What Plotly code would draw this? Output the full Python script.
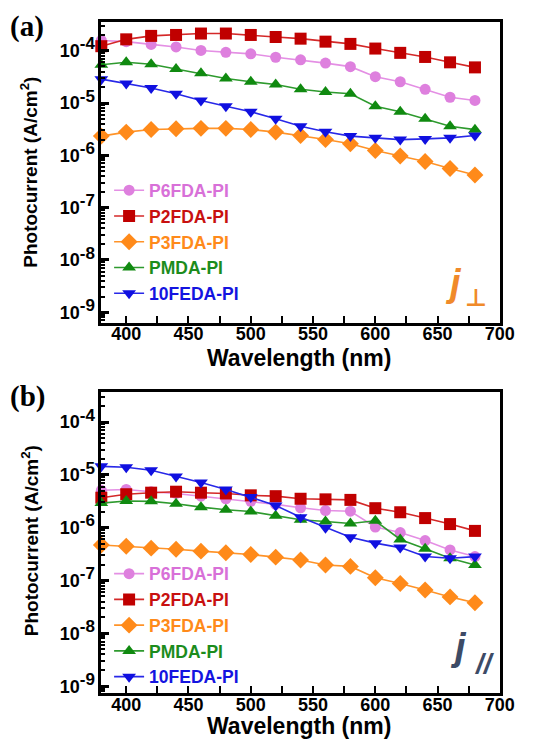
import plotly.graph_objects as go

wavelength = [380, 400, 420, 440, 460, 480, 500, 520, 540, 560, 580, 600, 620, 640, 660, 680]

series_names = ["P6FDA-PI", "P2FDA-PI", "P3FDA-PI", "PMDA-PI", "10FEDA-PI"]

# panel (a): j perpendicular
a_p6fda = [1.57e-4, 1.49e-4, 1.32e-4, 1.18e-4, 1.01e-4, 9.3e-5, 8.7e-5, 7.5e-5, 6.7e-5, 5.8e-5, 4.96e-5, 3.19e-5, 2.55e-5, 1.83e-5, 1.29e-5, 1.12e-5]
a_p2fda = [1.22e-4, 1.65e-4, 1.92e-4, 2.0e-4, 2.13e-4, 2.13e-4, 2.0e-4, 1.83e-4, 1.70e-4, 1.49e-4, 1.35e-4, 1.10e-4, 9.1e-5, 7.6e-5, 6.0e-5, 4.8e-5]
a_p3fda = [2.33e-6, 2.78e-6, 3.11e-6, 3.23e-6, 3.28e-6, 3.28e-6, 3.11e-6, 2.78e-6, 2.39e-6, 2.0e-6, 1.67e-6, 1.24e-6, 9.7e-7, 7.6e-7, 5.6e-7, 4.2e-7]
a_pmda = [5.4e-5, 6.0e-5, 5.5e-5, 4.45e-5, 3.7e-5, 2.94e-5, 2.55e-5, 2.26e-5, 1.83e-5, 1.62e-5, 1.50e-5, 8.7e-6, 6.8e-6, 5.0e-6, 3.6e-6, 3.1e-6]
a_10feda = [2.86e-5, 2.35e-5, 1.94e-5, 1.50e-5, 1.12e-5, 8.7e-6, 6.8e-6, 5.0e-6, 3.6e-6, 2.82e-6, 2.33e-6, 2.16e-6, 2.0e-6, 2.06e-6, 2.16e-6, 2.39e-6]

# panel (b): j parallel
b_p6fda = [5.1e-6, 5.3e-6, 4.8e-6, 4.45e-6, 3.95e-6, 3.53e-6, 3.15e-6, 2.76e-6, 2.38e-6, 2.11e-6, 2.05e-6, 1.03e-6, 8.1e-7, 5.7e-7, 3.8e-7, 2.84e-7]
b_p2fda = [3.7e-6, 4.3e-6, 4.6e-6, 4.8e-6, 4.6e-6, 4.45e-6, 4.1e-6, 3.95e-6, 3.53e-6, 3.44e-6, 3.36e-6, 2.34e-6, 1.96e-6, 1.52e-6, 1.17e-6, 8.7e-7]
b_p3fda = [4.7e-7, 4.45e-7, 4.1e-7, 3.9e-7, 3.6e-7, 3.36e-7, 3.1e-7, 2.77e-7, 2.44e-7, 1.97e-7, 1.85e-7, 1.13e-7, 8.8e-8, 6.6e-8, 4.9e-8, 3.8e-8]
b_pmda = [2.92e-6, 3.2e-6, 3.15e-6, 2.84e-6, 2.45e-6, 2.18e-6, 2.02e-6, 1.69e-6, 1.41e-6, 1.31e-6, 1.2e-6, 1.35e-6, 6.0e-7, 4.0e-7, 2.64e-7, 1.96e-7]
b_10feda = [1.45e-5, 1.39e-5, 1.22e-5, 9.3e-6, 7.2e-6, 5.3e-6, 3.8e-6, 2.64e-6, 1.57e-6, 1.0e-6, 6.6e-7, 5.1e-7, 4.2e-7, 2.84e-7, 2.64e-7, 2.84e-7]

ytick_vals = [1e-9, 1e-8, 1e-7, 1e-6, 1e-5, 1e-4]
ytick_exps = ["-9", "-8", "-7", "-6", "-5", "-4"]
xtick_vals = [400, 450, 500, 550, 600, 650, 700]

line_colors = ["#E48FE4", "#D42828", "#FF9328", "#2E9A2E", "#2828E8"]
marker_colors = ["#DE80DE", "#C00000", "#FF8A1A", "#108A10", "#1010E0"]
text_colors = ["#D870D8", "#C81010", "#FF8A1A", "#1C8C1C", "#1414E0"]
symbols = ["circle", "square", "diamond", "triangle-up", "triangle-down"]
msizes = [11, 12, 13, 12, 12]

W, H = 537, 744
FONT = "Liberation Sans"

ytick_text = ["10<sup><span style='font-size:17px'>%s</span></sup>" % e for e in ytick_exps]

fig = go.Figure()

panels = [
    ([a_p6fda, a_p2fda, a_p3fda, a_pmda, a_10feda], "x", "y", "legend"),
    ([b_p6fda, b_p2fda, b_p3fda, b_pmda, b_10feda], "x2", "y2", "legend2"),
]
for data, xa, ya, lg in panels:
    for i, vals in enumerate(data):
        fig.add_trace(go.Scatter(
            x=wavelength, y=vals, xaxis=xa, yaxis=ya, legend=lg,
            mode="lines+markers",
            name="<span style='color:%s'>%s</span>" % (text_colors[i], series_names[i]),
            line=dict(color=line_colors[i], width=1.6),
            marker=dict(symbol=symbols[i], size=msizes[i], color=marker_colors[i],
                        line=dict(width=0)),
            cliponaxis=False,
        ))

minor_y = [k * 10.0 ** e for e in range(-10, -3) for k in range(2, 10)] + [2e-4, 3e-4, 4e-4, 5e-4]

def xaxis_cfg(anchor):
    return dict(
        range=[380, 700], anchor=anchor, domain=[96 / W, 506 / W],
        showline=True, linecolor="black", linewidth=2.5, mirror=True,
        ticks="inside", ticklen=7, tickwidth=2, tickcolor="black",
        tickvals=xtick_vals, showgrid=False, zeroline=False,
        ticklabelstandoff=-7,
        tickfont=dict(family=FONT, size=18, color="black", weight="bold"),
        minor=dict(dtick=25, tick0=375, ticks="inside", ticklen=7, tickwidth=2, tickcolor="black"),
    )

def yaxis_cfg(anchor, dom, rng):
    return dict(
        type="log", range=rng, anchor=anchor, domain=dom,
        showline=True, linecolor="black", linewidth=2.5, mirror=True,
        ticks="inside", ticklen=8, tickwidth=2.5, tickcolor="black",
        tickvals=ytick_vals, ticktext=ytick_text, showgrid=False, zeroline=False,
        tickfont=dict(family=FONT, size=18, color="black", weight="bold"),
        minor=dict(tickvals=minor_y, ticks="inside", ticklen=4, tickwidth=1.5, tickcolor="black"),
    )

fig.update_layout(
    width=W, height=H,
    margin=dict(l=0, r=0, t=0, b=0),
    paper_bgcolor="white", plot_bgcolor="white",
    showlegend=True,
    xaxis=xaxis_cfg("y"),
    yaxis=yaxis_cfg("x", [1 - 316 / H, 1 - 14 / H], [-9.2, -3.45]),
    xaxis2=xaxis_cfg("y2"),
    yaxis2=yaxis_cfg("x2", [1 - 688 / H, 1 - 386 / H], [-9.133, -3.44]),
    legend=dict(x=104 / W, y=1 - 165 / H, xanchor="left", yanchor="top",
                bgcolor="rgba(0,0,0,0)", tracegroupgap=0, itemwidth=30,
                font=dict(family=FONT, size=17.5, weight="bold")),
    legend2=dict(x=104 / W, y=1 - 550 / H, xanchor="left", yanchor="top",
                 bgcolor="rgba(0,0,0,0)", tracegroupgap=0, itemwidth=30,
                 font=dict(family=FONT, size=17.5, weight="bold")),
)

ann = []
ann.append(dict(text="<b>(a)</b>", x=0, y=1 - 19 / H, xref="paper", yref="paper",
                xanchor="left", yanchor="middle", showarrow=False,
                font=dict(family="Liberation Serif", size=29, color="black")))
ann.append(dict(text="<b>(b)</b>", x=0, y=1 - 390 / H, xref="paper", yref="paper",
                xanchor="left", yanchor="middle", showarrow=False,
                font=dict(family="Liberation Serif", size=29, color="black")))
for yc in [351, 721]:
    ann.append(dict(text="<b>Wavelength (nm)</b>", x=299 / W, y=1 - yc / H,
                    xref="paper", yref="paper", showarrow=False,
                    xanchor="center", yanchor="middle",
                    font=dict(family=FONT, size=23, color="black")))
for yc in [165, 535]:
    ann.append(dict(text="<b>Photocurrent (A/cm<sup>2</sup>)</b>", x=22 / W, y=1 - yc / H,
                    xref="paper", yref="paper", textangle=-90, showarrow=False,
                    xanchor="center", yanchor="middle",
                    font=dict(family=FONT, size=19, color="black")))
ann.append(dict(text="<b><i>j</i></b>", x=458 / W, y=1 - 276 / H, xref="paper", yref="paper",
                showarrow=False, xanchor="center", yanchor="middle",
                font=dict(family=FONT, size=38, color="#F08A2A")))
ann.append(dict(text="<b>⊥</b>", x=481 / W, y=1 - 291 / H, xref="paper", yref="paper",
                showarrow=False, xanchor="center", yanchor="middle",
                font=dict(family="DejaVu Sans", size=24, color="#F08A2A")))
ann.append(dict(text="<b><i>j</i></b>", x=463 / W, y=1 - 642 / H, xref="paper", yref="paper",
                showarrow=False, xanchor="center", yanchor="middle",
                font=dict(family=FONT, size=38, color="#3D4B66")))
ann.append(dict(text="<b><i>//</i></b>", x=490 / W, y=1 - 658 / H, xref="paper", yref="paper",
                showarrow=False, xanchor="center", yanchor="middle",
                font=dict(family=FONT, size=28, color="#3D4B66")))
fig.update_layout(annotations=ann)

fig.write_html("out.html")
